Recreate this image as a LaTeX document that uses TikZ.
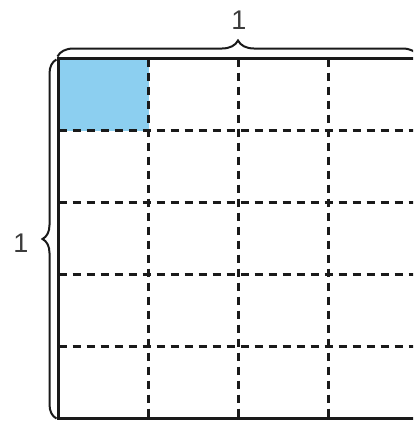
\documentclass[tikz,border=0pt]{standalone}
\usepackage{fontspec}
\setmainfont{Liberation Sans}
\usepackage{xcolor}
\usepackage{tikz}
\usetikzlibrary{decorations.pathreplacing}
\definecolor{celula}{HTML}{8CCFF0}
\definecolor{tinta}{HTML}{1A1A1A}
\begin{document}
\begin{tikzpicture}[x=1pt, y=-1pt, line cap=butt]
  \useasboundingbox (0,0) rectangle (413,421);
  \clip (0,0) rectangle (413,421);
  \def\xa{58.5}\def\ya{58.5}\def\lado{360}
  \def\nc{4}\def\nl{5}
  \pgfmathsetmacro{\dc}{\lado/\nc}
  \pgfmathsetmacro{\dl}{\lado/\nl}
  % celula destacada
  \fill[celula] (\xa,\ya) rectangle (\xa+\dc,\ya+\dl);
  % linhas tracejadas
  \foreach \i in {1,...,3}{
    \draw[tinta, line width=2.8pt, dash pattern=on 8.5pt off 5.5pt]
      (\xa+\i*\dc,\ya) -- (\xa+\i*\dc,\ya+\lado);
  }
  \foreach \j in {1,...,4}{
    \draw[tinta, line width=2.8pt, dash pattern=on 8.5pt off 5.5pt]
      (\xa,\ya+\j*\dl) -- (\xa+\lado,\ya+\j*\dl);
  }
  % contorno
  \draw[tinta, line width=3pt] (\xa,\ya) rectangle (\xa+\lado,\ya+\lado);
  % chaves
  \draw[tinta, line width=2pt, decorate, decoration={brace, amplitude=16pt}]
    (\xa-1,\ya-2) -- (\xa+\lado,\ya-2)
    node[midway, yshift=-20pt] (topo) {};
  \draw[tinta, line width=2pt, decorate, decoration={brace, amplitude=14pt}]
    (\xa-2,\ya+\lado) -- (\xa-2,\ya+1)
    node[midway] (esq) {};
  % rotulos
  \node[text=tinta!85, font=\fontsize{27}{30}\selectfont] (rtopo) at (239,20) {1};
  \node[text=tinta!85, font=\fontsize{27}{30}\selectfont] (resq) at (21,243) {1};
\end{tikzpicture}
\end{document}
